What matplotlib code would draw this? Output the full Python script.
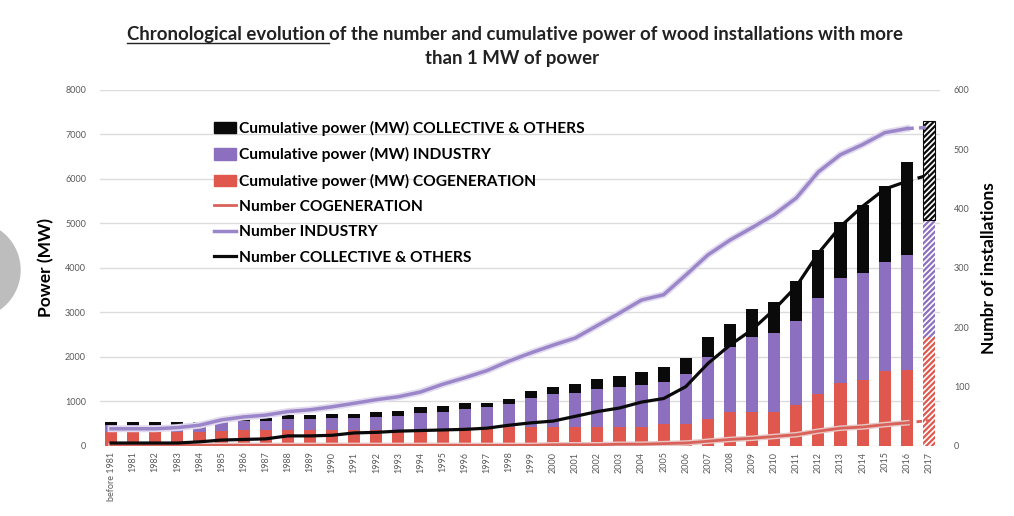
import matplotlib.pyplot as plt
import matplotlib.patheffects as pe
from matplotlib.patches import Patch, Circle
from matplotlib.lines import Line2D
from matplotlib.transforms import IdentityTransform
import numpy as np

plt.rcParams['font.family'] = ['Lato', 'DejaVu Sans']
plt.rcParams['hatch.linewidth'] = 1.6

# categories
years = ["before 1981"] + [str(y) for y in range(1981, 2018)]

# cumulative power (MW), stacked parts
power_cogen = [320, 320, 320, 320, 320, 340, 350, 350, 360, 360, 360, 360, 360, 370, 370, 370, 380, 380,
               420, 420, 420, 420, 420, 420, 420, 490, 490, 600, 757, 757, 772, 921, 1168, 1423, 1483,
               1690, 1708, 2456]
power_industry = [160, 160, 160, 160, 160, 200, 210, 210, 240, 240, 260, 260, 290, 300, 360, 400, 450, 490,
                  515, 650, 750, 780, 855, 915, 960, 950, 1130, 1405, 1475, 1700, 1760, 1895, 2150, 2345,
                  2410, 2440, 2585, 2625]
power_collective = [60, 60, 60, 60, 60, 60, 60, 60, 90, 90, 100, 100, 110, 120, 135, 125, 130, 90,
                    125, 165, 165, 200, 225, 230, 290, 330, 350, 435, 510, 615, 710, 895, 1075, 1275,
                    1530, 1715, 2080, 2230]

# number of installations
num_cogen = [1, 1, 1, 1, 1, 1, 1, 1, 1, 1, 1, 1, 1, 1, 1, 1, 1, 1, 1, 1, 2, 2, 2, 3, 3, 4, 5, 8, 11, 13,
             16, 19, 25, 30, 32, 36, 39, 43]
num_industry = [29, 29, 29, 31, 35, 44, 49, 52, 58, 61, 66, 72, 78, 83, 91, 104, 115, 127, 143, 157, 170,
                182, 203, 224, 246, 255, 288, 322, 347, 368, 390, 418, 462, 491, 508, 528, 535, 537]
num_collective = [5, 5, 5, 5, 7, 10, 11, 12, 17, 17, 18, 22, 23, 25, 26, 27, 28, 30, 35, 39, 42, 50, 58,
                  64, 74, 80, 100, 139, 170, 196, 230, 269, 325, 370, 404, 433, 446, 457]

c_black = '#0a0a0a'
c_purple = '#8d6fc0'
c_red = '#e0574d'
c_purple_line = '#9a86c8'
c_red_line = '#d8625a'
tick_col = '#595959'

fig = plt.figure(figsize=(10.14, 5.16), dpi=100)
ax = fig.add_axes([0.0986, 0.1357, 0.8284, 0.6899])
ax2 = ax.twinx()

x = np.arange(len(years))
w = 0.55
cogen = np.array(power_cogen)
ind = np.array(power_industry)
coll = np.array(power_collective)

# bars up to 2016
n = len(years) - 1
ax.bar(x[:n], cogen[:n], w, color=c_red, zorder=2)
ax.bar(x[:n], ind[:n], w, bottom=cogen[:n], color=c_purple, zorder=2)
ax.bar(x[:n], coll[:n], w, bottom=cogen[:n] + ind[:n], color=c_black, zorder=2)

# 2017 forecast, hatched
ax.bar(x[n:], cogen[n:], w, color='white', edgecolor=c_red, hatch='//////', linewidth=0, zorder=2)
ax.bar(x[n:], ind[n:], w, bottom=cogen[n:], color='white', edgecolor=c_purple, hatch='//////',
       linewidth=0, zorder=2)
ax.bar(x[n:], coll[n:], w, bottom=cogen[n:] + ind[n:], color='white', edgecolor=c_black,
       hatch='//////', linewidth=0.8, zorder=2)

ax.set_xlim(-0.5, len(years) - 0.5)
ax.set_ylim(0, 8000)
ax.set_yticks(np.arange(0, 8001, 1000))
ax.yaxis.grid(True, color='#dcdcdc', linewidth=1)
ax.set_axisbelow(True)
ax.set_xticks(x)
ax.set_xticklabels(years, rotation=90, fontsize=6.5, color=tick_col)
ax.tick_params(axis='both', length=0, labelsize=6.5, labelcolor=tick_col, pad=10)
ax.tick_params(axis='x', pad=4)
ax.set_ylabel("Power (MW)", fontsize=12.5, fontweight='bold', labelpad=8)

# lines on the right axis
shadow = [pe.withStroke(linewidth=5, foreground='#e2dbef')]
ax2.plot(x[:n], num_cogen[:n], color=c_red_line, lw=2,
         path_effects=[pe.withStroke(linewidth=4, foreground='#e8c7c4')])
ax2.plot(x[n - 1:], num_cogen[n - 1:], color=c_red_line, lw=2, ls=(0, (2, 1.5)))
ax2.plot(x[:n], num_industry[:n], color=c_purple_line, lw=2.5, path_effects=shadow)
ax2.plot(x[n - 1:], num_industry[n - 1:], color=c_purple_line, lw=2.5, ls=(0, (2, 1.5)))
ax2.plot(x[:n], num_collective[:n], color=c_black, lw=2.3)
ax2.plot(x[n - 1:], num_collective[n - 1:], color=c_black, lw=2.3, ls=(0, (2, 1.5)))

ax2.set_ylim(0, 600)
ax2.set_yticks(np.arange(0, 601, 100))
ax2.tick_params(axis='y', length=0, labelsize=6.5, labelcolor=tick_col, pad=10)
ax2.set_ylabel("Numbr of installations", fontsize=12.5, fontweight='bold', labelpad=8)

for a in (ax, ax2):
    for s in a.spines.values():
        s.set_visible(False)

handles = [
    Patch(color=c_black, label="Cumulative power (MW) COLLECTIVE & OTHERS"),
    Patch(color=c_purple, label="Cumulative power (MW) INDUSTRY"),
    Patch(color=c_red, label="Cumulative power (MW) COGENERATION"),
    Line2D([], [], color=c_red_line, lw=2, label="Number COGENERATION"),
    Line2D([], [], color=c_purple_line, lw=2.5, label="Number INDUSTRY"),
    Line2D([], [], color=c_black, lw=2.3, label="Number COLLECTIVE & OTHERS"),
]
ax2.legend(handles=handles, loc='upper left', bbox_to_anchor=(0.128, 0.93), frameon=False,
           handlelength=1.45, handleheight=0.75, handletextpad=0.2,
           labelspacing=0.72, borderaxespad=0, prop={'size': 11.2, 'weight': 'bold'})

# title, first part underlined
ty1 = 1 - 40 / 516
ty2 = 1 - 64 / 516
tkw = dict(fontsize=13.4, fontweight='bold', color='#222222', va='baseline')
t1 = fig.text(0, ty1, "Chronological evolution ", **tkw)
t2 = fig.text(0, ty1, "of the number and cumulative power of wood installations with more", **tkw)
fig.canvas.draw()
r = fig.canvas.get_renderer()
w1 = t1.get_window_extent(r).width
w2 = t2.get_window_extent(r).width
x0 = 515 - (w1 + w2) / 2
t1.set_x(x0 / 1014)
t2.set_x((x0 + w1) / 1014)
ybase = ty1 * 516 - 3
fig.add_artist(Line2D([x0, x0 + w1], [ybase, ybase], color='#222222', lw=1,
                      transform=IdentityTransform()))
fig.text(512 / 1014, ty2, "than 1 MW of power", ha='center', **tkw)

# grey round shape at the left edge of the screenshot
fig.add_artist(Circle((-28, 246), 48, color='#bdbdbd', transform=IdentityTransform()))

fig.savefig("out.png", dpi=100)
